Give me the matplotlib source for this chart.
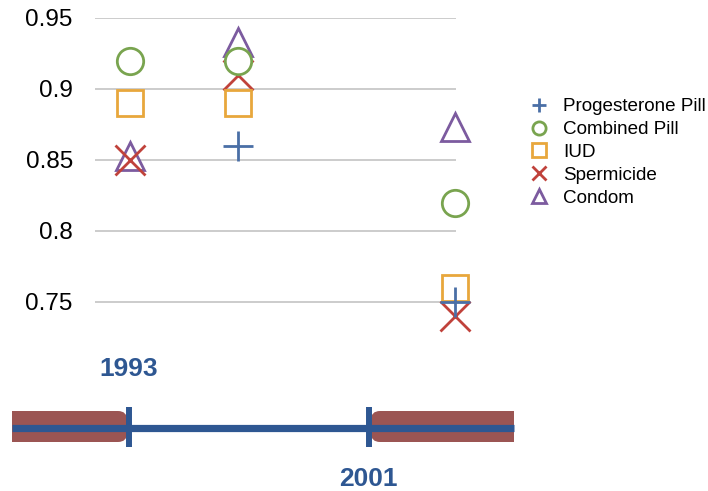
import matplotlib.pyplot as plt
from matplotlib.patches import FancyBboxPatch, Rectangle

plt.rcParams['font.family'] = ['Liberation Sans', 'DejaVu Sans']

# columns of the chart (first one sits over 1993)
cols = [0, 1, 3]

methods = ["Progesterone Pill", "Combined Pill", "IUD", "Spermicide", "Condom"]
progesterone = [None, 0.86, 0.75]
combined = [0.92, 0.92, 0.82]
iud = [0.89, 0.89, 0.76]
spermicide = [0.85, 0.91, 0.74]
condom = [0.853, 0.933, 0.873]

yticks = [0.75, 0.8, 0.85, 0.9, 0.95]
ytick_labels = ["0.75", "0.8", "0.85", "0.9", "0.95"]

years = [1993, 2001]

series = [progesterone, combined, iud, spermicide, condom]
markers = ["+", "o", "s", "x", "^"]
colors = ["#4a6fa6", "#79a44f", "#e8a73c", "#c0423b", "#7c5b9f"]
sizes = [21, 19, 19, 21, 20]
zorders = [6, 5, 4, 3, 2]

fig = plt.figure(figsize=(7.08, 4.91), dpi=100)
W, H = 708, 491

# main scatter axes (pixel placement from reference)
ax = fig.add_axes([95 / W, 1 - 330.4 / H, (456 - 95) / W, (330.4 - 18) / H])
ax.set_xlim(-0.323, 3.009)
ax.set_ylim(0.73, 0.95)
for s in ax.spines.values():
    s.set_visible(False)
ax.set_xticks([])
ax.set_yticks(yticks)
ax.set_yticklabels(ytick_labels, fontsize=17.5)
ax.tick_params(axis='y', length=0, pad=16)
for yv in yticks:
    ax.axhline(yv, color="#c4c4c4", lw=1.2, zorder=0)

for name, vals, m, c, ms, z in zip(methods, series, markers, colors, sizes, zorders):
    xs = [x for x, v in zip(cols, vals) if v is not None]
    ys = [v for v in vals if v is not None]
    ax.plot(xs, ys, linestyle='none', marker=m, markersize=ms,
            markerfacecolor='white', markeredgecolor=c, markeredgewidth=2,
            label=name, clip_on=False, zorder=z)

leg = ax.legend(loc='upper left', bbox_to_anchor=(513 / W, 1 - 81 / H),
                bbox_transform=fig.transFigure, frameon=False, fontsize=13.6,
                markerscale=0.5, handlelength=1.0, handletextpad=0.75,
                labelspacing=0.3)

# timeline at the bottom, drawn in pixel coordinates
tl = fig.add_axes([0, 0, 1, 1 - 340 / H])
tl.set_xlim(0, W)
tl.set_ylim(H, 340)
tl.axis('off')

bar_red = "#9b5553"
line_blue = "#2e5792"
px_year = 30.0
x0 = 129 - (years[0] - 1993) * px_year

def year_x(y):
    return x0 + (y - years[0]) * px_year

x1993, x2001 = year_x(years[0]), year_x(years[1])

# left bar, rounded on the right
tl.add_patch(FancyBboxPatch((12, 411), x1993 - 2 - 12, 31,
                            boxstyle="round,pad=0,rounding_size=9",
                            fc=bar_red, ec='none'))
tl.add_patch(Rectangle((12, 411), 20, 31, fc=bar_red, ec='none'))
# right bar, rounded on the left
tl.add_patch(FancyBboxPatch((x2001 + 2, 411), 514 - x2001 - 2, 31,
                            boxstyle="round,pad=0,rounding_size=9",
                            fc=bar_red, ec='none'))
tl.add_patch(Rectangle((494, 411), 20, 31, fc=bar_red, ec='none'))

tl.plot([12, 514], [427.5, 427.5], color=line_blue, lw=5.2, solid_capstyle='butt')
for xv in (x1993, x2001):
    tl.plot([xv, xv], [407, 447], color=line_blue, lw=4.3, solid_capstyle='butt')

tl.text(x1993, 369, str(years[0]), color=line_blue, fontsize=19, fontweight='bold',
        ha='center', va='center')
tl.text(x2001 - 1, 479, str(years[1]), color=line_blue, fontsize=19, fontweight='bold',
        ha='center', va='center')

fig.savefig("out.png", dpi=100)
